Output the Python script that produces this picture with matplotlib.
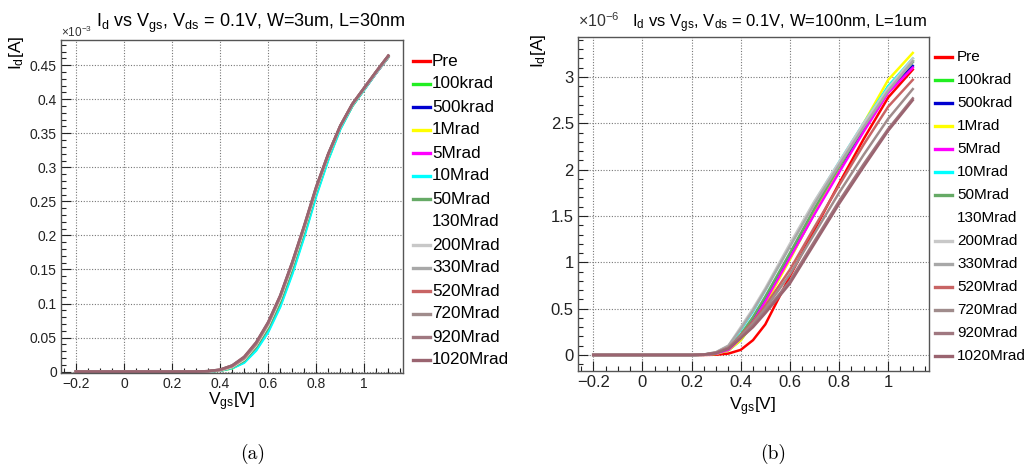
import matplotlib
matplotlib.use("Agg")
import matplotlib.pyplot as plt
from matplotlib.lines import Line2D
from matplotlib.ticker import MultipleLocator

plt.rcParams["font.family"] = ["Liberation Sans", "DejaVu Sans"]
plt.rcParams["mathtext.fontset"] = "custom"
plt.rcParams["mathtext.rm"] = "Liberation Sans"
plt.rcParams["mathtext.it"] = "Liberation Sans"
plt.rcParams["mathtext.default"] = "regular"

labels = ["Pre", "100krad", "500krad", "1Mrad", "5Mrad", "10Mrad", "50Mrad",
          "130Mrad", "200Mrad", "330Mrad", "520Mrad", "720Mrad", "920Mrad", "1020Mrad"]
colors = ["#ff0000", "#22ee22", "#0000d0", "#ffff00", "#ff00ff", "#00ffff", "#66aa66",
          "#ffffff", "#c8c8c8", "#a8a8a8", "#c86464", "#a08c8c", "#a07880", "#9a6470"]

# (a) W=3um, L=30nm  -- Id in units of 1e-3 A
vgs_a = [-0.2, 0.2, 0.3, 0.35, 0.4, 0.45, 0.5, 0.55, 0.6, 0.65, 0.7, 0.75, 0.8, 0.85, 0.9, 0.95, 1.0, 1.05, 1.1]
id_a = [
    [0, 0, 0, 0.0005, 0.002, 0.007, 0.018, 0.039, 0.068, 0.107, 0.156, 0.210, 0.268, 0.318, 0.360, 0.392, 0.416, 0.440, 0.463],  # Pre
    [0, 0, 0, 0.0003, 0.0015, 0.005, 0.014, 0.032, 0.060, 0.097, 0.145, 0.200, 0.260, 0.312, 0.357, 0.390, 0.415, 0.439, 0.462],  # 100krad
    [0, 0, 0, 0.0004, 0.0017, 0.006, 0.016, 0.035, 0.063, 0.101, 0.150, 0.205, 0.264, 0.315, 0.358, 0.391, 0.415, 0.439, 0.462],  # 500krad
    [0, 0, 0, 0.0003, 0.0015, 0.005, 0.015, 0.034, 0.062, 0.100, 0.149, 0.204, 0.263, 0.314, 0.358, 0.391, 0.415, 0.439, 0.462],  # 1Mrad
    [0, 0, 0, 0.0004, 0.0016, 0.006, 0.016, 0.035, 0.064, 0.102, 0.151, 0.206, 0.264, 0.315, 0.358, 0.391, 0.415, 0.439, 0.462],  # 5Mrad
    [0, 0, 0, 0.0003, 0.0014, 0.005, 0.013, 0.031, 0.058, 0.095, 0.143, 0.198, 0.258, 0.311, 0.356, 0.390, 0.414, 0.439, 0.462],  # 10Mrad
    [0, 0, 0, 0.0004, 0.0017, 0.006, 0.016, 0.036, 0.064, 0.102, 0.151, 0.206, 0.265, 0.316, 0.359, 0.391, 0.415, 0.440, 0.462],  # 50Mrad
    [0, 0, 0, 0.0005, 0.002, 0.007, 0.018, 0.039, 0.068, 0.107, 0.156, 0.210, 0.268, 0.318, 0.360, 0.392, 0.416, 0.440, 0.463],  # 130Mrad
    [0, 0, 0, 0.0005, 0.002, 0.007, 0.019, 0.040, 0.069, 0.108, 0.157, 0.211, 0.268, 0.318, 0.360, 0.392, 0.416, 0.440, 0.463],  # 200Mrad
    [0, 0, 0, 0.0006, 0.0022, 0.008, 0.019, 0.040, 0.070, 0.109, 0.158, 0.212, 0.269, 0.319, 0.360, 0.392, 0.416, 0.440, 0.463],  # 330Mrad
    [0, 0, 0, 0.0007, 0.0025, 0.008, 0.020, 0.041, 0.071, 0.110, 0.159, 0.213, 0.270, 0.319, 0.361, 0.393, 0.417, 0.441, 0.464],  # 520Mrad
    [0, 0, 0, 0.0007, 0.0027, 0.009, 0.021, 0.042, 0.072, 0.111, 0.160, 0.214, 0.271, 0.320, 0.361, 0.393, 0.417, 0.441, 0.464],  # 720Mrad
    [0, 0, 0, 0.0008, 0.003, 0.009, 0.021, 0.043, 0.072, 0.111, 0.160, 0.214, 0.271, 0.320, 0.361, 0.393, 0.417, 0.441, 0.464],  # 920Mrad
    [0, 0, 0, 0.0008, 0.003, 0.009, 0.022, 0.043, 0.073, 0.112, 0.161, 0.215, 0.272, 0.320, 0.361, 0.393, 0.417, 0.441, 0.464],  # 1020Mrad
]

# (b) W=100nm, L=1um  -- Id in units of 1e-6 A
vgs_b = [-0.2, 0.2, 0.25, 0.3, 0.35, 0.4, 0.45, 0.5, 0.6, 0.7, 0.8, 0.9, 1.0, 1.1]
id_b = [
    [0, 0, 0.000, 0.003, 0.015, 0.055, 0.16, 0.33, 0.85, 1.35, 1.85, 2.33, 2.78, 3.08],  # Pre
    [0, 0, 0.002, 0.012, 0.050, 0.160, 0.34, 0.56, 1.04, 1.53, 2.00, 2.45, 2.90, 3.18],  # 100krad
    [0, 0, 0.002, 0.015, 0.060, 0.190, 0.38, 0.60, 1.07, 1.54, 1.99, 2.43, 2.85, 3.12],  # 500krad
    [0, 0, 0.002, 0.012, 0.050, 0.160, 0.34, 0.55, 1.03, 1.54, 2.02, 2.50, 2.97, 3.26],  # 1Mrad
    [0, 0, 0.002, 0.014, 0.055, 0.180, 0.36, 0.58, 1.05, 1.52, 1.97, 2.41, 2.83, 3.10],  # 5Mrad
    [0, 0, 0.004, 0.025, 0.090, 0.270, 0.47, 0.70, 1.18, 1.65, 2.08, 2.50, 2.90, 3.20],  # 10Mrad
    [0, 0, 0.003, 0.020, 0.070, 0.220, 0.41, 0.63, 1.10, 1.58, 2.03, 2.46, 2.87, 3.16],  # 50Mrad
    [0, 0, 0.005, 0.030, 0.100, 0.290, 0.49, 0.71, 1.19, 1.65, 2.07, 2.49, 2.87, 3.19],  # 130Mrad
    [0, 0, 0.005, 0.030, 0.100, 0.300, 0.50, 0.72, 1.20, 1.66, 2.08, 2.50, 2.88, 3.20],  # 200Mrad
    [0, 0, 0.005, 0.030, 0.100, 0.280, 0.48, 0.70, 1.17, 1.63, 2.05, 2.46, 2.85, 3.17],  # 330Mrad
    [0, 0, 0.004, 0.025, 0.080, 0.210, 0.36, 0.53, 0.92, 1.38, 1.83, 2.27, 2.68, 2.97],  # 520Mrad
    [0, 0, 0.004, 0.024, 0.078, 0.200, 0.34, 0.50, 0.87, 1.31, 1.75, 2.16, 2.55, 2.87],  # 720Mrad
    [0, 0, 0.004, 0.022, 0.072, 0.190, 0.32, 0.47, 0.80, 1.23, 1.66, 2.06, 2.44, 2.77],  # 920Mrad
    [0, 0, 0.004, 0.020, 0.068, 0.180, 0.30, 0.45, 0.77, 1.20, 1.63, 2.03, 2.42, 2.75],  # 1020Mrad
]

W, H = 1028, 468
fig = plt.figure(figsize=(W / 100, H / 100), dpi=100)


def px_axes(x0, y0, x1, y1):
    return fig.add_axes([x0 / W, 1 - y1 / H, (x1 - x0) / W, (y1 - y0) / H])


def style_axes(ax, fs, ymaj, ymin_):
    ax.xaxis.set_major_locator(MultipleLocator(0.2))
    ax.xaxis.set_minor_locator(MultipleLocator(0.05))
    ax.yaxis.set_major_locator(MultipleLocator(ymaj))
    ax.yaxis.set_minor_locator(MultipleLocator(ymin_))
    ax.tick_params(which="both", direction="in", top=False, right=False,
                   labelsize=fs, colors="#222222", pad=3)
    ax.tick_params(which="major", length=7, width=0.8)
    ax.tick_params(which="minor", length=3.5, width=0.8)
    ax.grid(True, which="major", linestyle=(0, (1, 1.5)), color="#777777", linewidth=0.8)
    for s in ax.spines.values():
        s.set_color("#555555")
        s.set_linewidth(1.0)


def legend(x_line, x_text, y0, fs):
    for i, (lab, col) in enumerate(zip(labels, colors)):
        y = y0 + i * 23
        fig.add_artist(Line2D([x_line / W, (x_line + 17) / W], [1 - y / H, 1 - y / H],
                              color=col, lw=2.4, transform=fig.transFigure))
        fig.text(x_text / W, 1 - y / H, lab, fontsize=fs, va="center", ha="left")


# ---- panel (a)
ax1 = px_axes(61, 40, 403, 373)
for ys, col in zip(id_a, colors):
    ax1.plot(vgs_a, ys, color=col, lw=1.8)
ax1.set_xlim(-0.262, 1.161)
ax1.set_ylim(-0.002, 0.487)
style_axes(ax1, 10, 0.05, 0.01)
ax1.set_yticks([0, 0.05, 0.1, 0.15, 0.2, 0.25, 0.3, 0.35, 0.4, 0.45])
ax1.set_yticklabels(["0", "0.05", "0.1", "0.15", "0.2", "0.25", "0.3", "0.35", "0.4", "0.45"])
ax1.set_xticks([-0.2, 0, 0.2, 0.4, 0.6, 0.8, 1.0])
ax1.set_xticklabels(["\u22120.2", "0", "0.2", "0.4", "0.6", "0.8", "1"])
fig.text(405 / W, 1 - 27 / H, "I$_{d}$ vs V$_{gs}$, V$_{ds}$ = 0.1V, W=3um, L=30nm",
         fontsize=13, ha="right", va="baseline")
fig.text(61 / W, 1 - 37 / H, "\u00d710$^{-3}$", fontsize=8.5, ha="left", va="baseline", color="#333333")
fig.text(16 / W, 1 - 36 / H, "I$_{d}$[A]", fontsize=12.5, rotation=90, ha="center", va="top")
fig.text(232 / W, 1 - 405 / H, "V$_{gs}$[V]", fontsize=12.5, ha="center", va="baseline")
legend(413, 432, 61, 12.3)
fig.text(253 / W, 1 - 454 / H, "(a)", fontsize=14, family="cmr10", ha="center", va="center")

# ---- panel (b)
ax2 = px_axes(578, 37, 929, 371)
for ys, col in zip(id_b, colors):
    ax2.plot(vgs_b, ys, color=col, lw=1.8)
ax2.set_xlim(-0.262, 1.166)
ax2.set_ylim(-0.173, 3.432)
style_axes(ax2, 12, 0.5, 0.1)
ax2.set_yticks([0, 0.5, 1, 1.5, 2, 2.5, 3])
ax2.set_yticklabels(["0", "0.5", "1", "1.5", "2", "2.5", "3"])
ax2.set_xticks([-0.2, 0, 0.2, 0.4, 0.6, 0.8, 1.0])
ax2.set_xticklabels(["\u22120.2", "0", "0.2", "0.4", "0.6", "0.8", "1"])
fig.text(927 / W, 1 - 27 / H, "I$_{d}$ vs V$_{gs}$, V$_{ds}$ = 0.1V, W=100nm, L=1um",
         fontsize=12, ha="right", va="baseline")
fig.text(578 / W, 1 - 27 / H, "\u00d710$^{-6}$", fontsize=11.5, ha="left", va="baseline", color="#333333")
fig.text(539 / W, 1 - 34 / H, "I$_{d}$[A]", fontsize=12.5, rotation=90, ha="center", va="top")
fig.text(753 / W, 1 - 410 / H, "V$_{gs}$[V]", fontsize=12.5, ha="center", va="baseline")
legend(935, 957, 57, 11)
fig.text(773 / W, 1 - 454 / H, "(b)", fontsize=14, family="cmr10", ha="center", va="center")

fig.savefig("out.png", dpi=100)
